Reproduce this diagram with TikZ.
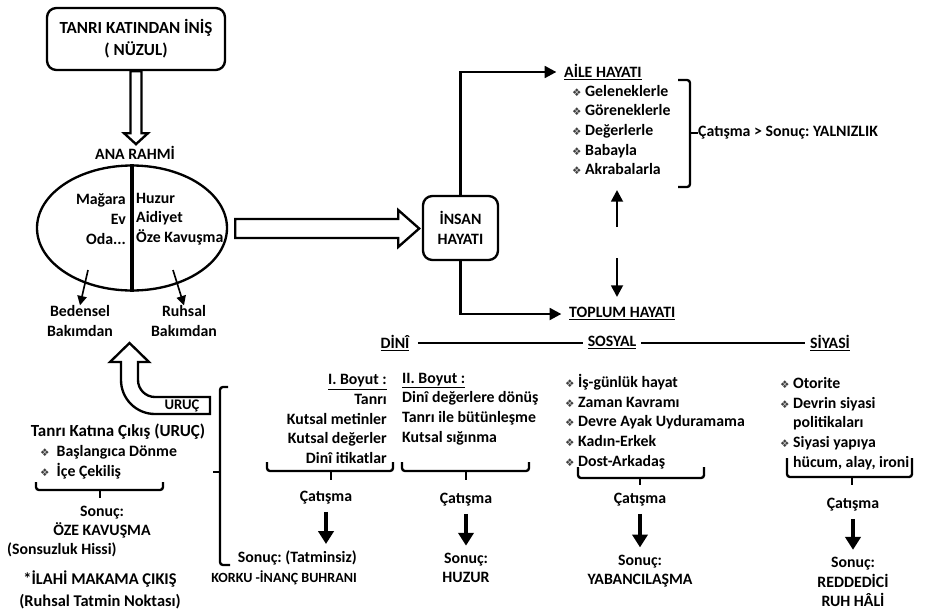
\documentclass[tikz,border=0pt]{standalone}
\usepackage{fontspec}
\setmainfont{Carlito}
\newfontfamily\dejavu{DejaVu Sans}
\usetikzlibrary{arrows.meta,shapes.geometric,calc}
\frenchspacing
\newcommand{\madde}{\makebox[11pt][l]{\dejavu\fontsize{9}{9}\selectfont\color{black!75}❖}}
\tikzset{
  yazi/.style={font=\bfseries\fontsize{13.5}{16.8}\selectfont, inner sep=0pt},
  kutu/.style={yazi, draw, line width=2pt, rounded corners=8pt, align=center},
  akis/.style={line width=2.2pt, -{Triangle[length=10pt,width=10pt]}},
  ince/.style={line width=1.4pt, -{Triangle[length=8pt,width=8pt]}},
  kalin/.style={line width=3.2pt, -{Triangle[length=11pt,width=13pt]}},
  bos/.style={line width=2pt, fill=white, line join=miter},
  parantez/.style={line width=2pt, rounded corners=2.5pt},
}
\begin{document}
\begin{tikzpicture}[x=0.03cm, y=-0.03cm]
        \useasboundingbox (0,0) rectangle (927,612);
        \node[kutu, font=\bfseries\fontsize{14.5}{18.5}\selectfont, minimum width=5.34cm, minimum height=1.86cm] (nuzul) at (136,39) {TANRI KATINDAN İNİŞ\\( NÜZUL)}; %NUZUL
        \node[yazi] (anarahmi) at (135,153) {ANA RAHMİ};                                       %
        \draw[bos] ($(nuzul.south)+(-5.5,0)$) -- ++(0,62) -- ++(-6.5,0) -- ++(12,11) -- ++(12,-11) -- ++(-6.5,0) -- ++(0,-62) -- cycle;

        \node[draw, ellipse, line width=2pt, minimum width=5.7cm, minimum height=3.75cm, inner sep=0pt] (rahim) at (132,228) {}; %RAHIM
        \draw[line width=2.8pt] (rahim.north) -- (rahim.south);                                  %
        \node[yazi, align=right, anchor=east] (mekan) at (126,219) {Mağara\\Ev\\Oda...};       %
        \node[yazi, align=left, anchor=west]  (duygu) at (136,219) {Huzur\\Aidiyet\\Öze Kavuşma};
        \node[yazi, align=center] (beden) at (80,321)  {Bedensel\\Bakımdan};                   %
        \node[yazi, align=center] (ruh)   at (184,321) {Ruhsal\\Bakımdan};                     %
        \draw[ince] ($(rahim.center)+(-44,42)$) -- (beden.north);                              %
        \draw[ince] ($(rahim.center)+(41,42)$)  -- (ruh.north);                                %
        \draw[bos] ($(rahim.east)+(7,-9)$) -- ++(163,0) -- ++(0,-9) -- ++(21,18.5) -- ++(-21,18.5) -- ++(0,-9) -- ++(-163,0) -- cycle;

        \node[kutu, minimum width=2.25cm, minimum height=1.92cm] (insan) at (460.5,228) {İNSAN\\HAYATI}; %INSAN
        \node[yazi, anchor=west] (aile)   at (564,72)  {\underline{AİLE HAYATI}};              %
        \node[yazi, anchor=west] (toplum) at (569,314) {\underline{TOPLUM HAYATI}};            %
        \draw[akis, shorten >=6.5pt] (insan.north) |- (aile.west);                             %
        \draw[akis, shorten >=6.5pt] (insan.south) |- (toplum.west);                           %
        \node[yazi, anchor=west, align=left] (aileliste) at (572,130)
          {\madde Geleneklerle\\\madde Göreneklerle\\\madde Değerlerle\\\madde Babayla\\\madde Akrabalarla};
        \node[yazi, anchor=west] (yalniz) at (698,133) {Çatışma > Sonuç: YALNIZLIK};           %
        \draw[parantez] (678,80) -- (690,80) -- (690,187) -- (678,187);                        %
        \draw[parantez] (690,133) -- (yalniz.west);                                            %
        \coordinate (ok1a) at (617,227); \coordinate (ok1b) at (617,190);                      %
        \coordinate (ok2a) at (617,258); \coordinate (ok2b) at (617,297);                      %
        \draw[akis] (ok1a) -- (ok1b);                                                          %
        \draw[akis] (ok2a) -- (ok2b);                                                          %

        \node[yazi] (dini)   at (395,343) {\underline{DİNÎ}};                                  %
        \node[yazi] (sosyal) at (612,343) {\underline{SOSYAL}};                                %
        \node[yazi] (siyasi) at (830,343) {\underline{SİYASİ}};                                %
        \draw[line width=2pt, shorten <=7pt, shorten >=4pt] (dini) -- (sosyal);                %
        \draw[line width=2pt, shorten <=4pt, shorten >=4pt] (sosyal) -- (siyasi);              %

        \node[yazi, align=right, anchor=east] (boyut1) at (387,419)
          {\underline{I. Boyut :}\\Tanrı\\Kutsal metinler\\Kutsal değerler\\Dinî itikatlar};
        \node[yazi, align=left, anchor=west] (boyut2) at (402,409)
          {\underline{II. Boyut :}\\Dinî değerlere dönüş\\Tanrı ile bütünleşme\\Kutsal sığınma};
        \draw[parantez] (267,462) -- (267,471) -- (393,471) -- (393,462);                      %I
        \draw[parantez] (331,471) -- (331,480);                                                %
        \draw[parantez] (402,462) -- (402,471) -- (529,471) -- (529,462);                      %II
        \draw[parantez] (466,471) -- (466,480);                                                %
        \node[yazi] (cat1) at (326,498) {Çatışma};                                             %
        \node[yazi, align=right, anchor=north east] (son1) at (357,551)
          {Sonuç: (Tatminsiz)\\{\fontsize{12}{14}\selectfont KORKU -İNANÇ BUHRANI}};
        \draw[kalin, shorten <=6pt, shorten >=6pt] (cat1.south) -- (cat1.south |- son1.north);   %
        \node[yazi] (cat2) at (466,500) {Çatışma};                                             %
        \node[yazi, align=center] (son2) at (466,568) {Sonuç:\\HUZUR};                         %
        \draw[kalin, shorten <=6pt, shorten >=6pt] (cat2) -- (son2);                           %

        \node[yazi, anchor=west, align=left] (sosliste) at (565,421.5)
          {\madde İş-günlük hayat\\\madde Zaman Kavramı\\\madde Devre Ayak Uyduramama\\\madde Kadın-Erkek\\\madde Dost-Arkadaş};
        \draw[parantez] (578,467) -- (578,478) -- (704,478) -- (704,467);                      %SOSYAL
        \draw[parantez] (640,478) -- (640,485);                                                %
        \node[yazi] (cat3) at (640,500) {Çatışma};                                             %
        \node[yazi, align=center] (son3) at (640,571) {Sonuç:\\YABANCILAŞMA};                  %
        \draw[kalin, shorten <=6pt, shorten >=6pt] (cat3) -- (son3);                           %

        \node[yazi, anchor=west, align=left] (siyliste) at (780,423.5)
          {\madde Otorite\\\madde Devrin siyasi\\\hspace*{11pt}politikaları\\\madde Siyasi yapıya\\\hspace*{11pt}hücum, alay, ironi};
        \draw[parantez] (787,458) -- (787,477) -- (912,477) -- (912,458);                      %SIYASI
        \draw[parantez] (852,477) -- (852,485);                                                %
        \node[yazi] (cat4) at (853,505) {Çatışma};                                             %
        \node[yazi, align=center] (son4) at (853,582) {Sonuç:\\REDDEDİCİ\\RUH HÂLİ};            %
        \draw[kalin, shorten <=6pt, shorten >=6pt] (cat4) -- (son4);                           %

        \draw[bos] (210,397) -- (210,414) -- (155,414) .. controls (136.2,414) and (121,398.8) .. (121,380)
          -- (121,362) -- (110,362) -- (129.5,343) -- (149,362) -- (138,362) -- (138,380)
          .. controls (138,389.4) and (145.6,397) .. (155,397) -- cycle;                      %URUC
        \node[yazi, font=\bfseries\fontsize{12.5}{14}\selectfont] (uruc) at (182,406) {URUÇ};  %
        \node[yazi, font=\bfseries\fontsize{14.5}{17}\selectfont] (cikis) at (118,432) {Tanrı Katına Çıkış (URUÇ)};
        \node[yazi, anchor=west, align=left] (urucliste) at (40,462) {\madde~Başlangıca Dönme\\\madde~İçe Çekiliş};
        \draw[parantez] (36,482) -- (36,490) -- (163,490) -- (163,482);                        %
        \draw[parantez] (100,490) -- (100,498);                                                %
        \node[yazi, align=center] (son0) at (102,522) {Sonuç:\\ÖZE KAVUŞMA};                   %
        \node[yazi, anchor=west] (sonsuz) at (7,550) {(Sonsuzluk Hissi)};                      %
        \node[yazi, align=center, font=\bfseries\fontsize{14}{19}\selectfont] (ilahi) at (100,590) {*İLAHİ MAKAMA ÇIKIŞ\\(Ruhsal Tatmin Noktası)};
        \draw[parantez] (228,387) -- (220,387) -- (220,565) -- (230,565);                      %
        \draw[parantez] (220,472) -- (213,472);                                                %
\end{tikzpicture}
\end{document}
